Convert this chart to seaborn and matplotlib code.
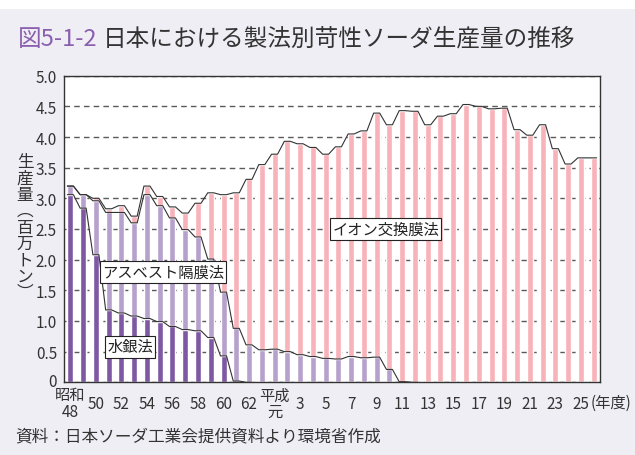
import matplotlib
matplotlib.use('Agg')
import matplotlib.pyplot as plt
import matplotlib.patches as mpatches
import matplotlib.transforms as mtransforms
import seaborn as sns
import numpy as np
import pandas as pd

# 昭和48年度(1973) .. 平成26年度(2014), 百万トン
years = list(range(1973, 2015))
mercury = [3.06, 2.84, 2.08, 1.18, 1.13, 1.08, 1.04, 0.99, 0.91, 0.86,
           0.84, 0.73, 0.43, 0.02, 0, 0, 0, 0, 0, 0,
           0, 0, 0, 0, 0, 0, 0, 0, 0, 0,
           0, 0, 0, 0, 0, 0, 0, 0, 0, 0,
           0, 0]
asbestos = [0.14, 0.22, 0.88, 1.59, 1.64, 1.52, 2.02, 1.89, 1.77, 1.63,
            1.53, 1.28, 1.04, 0.86, 0.61, 0.53, 0.54, 0.50, 0.45, 0.42,
            0.39, 0.38, 0.42, 0.40, 0.41, 0.21, 0.01, 0, 0, 0,
            0, 0, 0, 0, 0, 0, 0, 0, 0, 0,
            0, 0]
ion = [0, 0, 0.04, 0.06, 0.11, 0.11, 0.14, 0.15, 0.18, 0.27,
       0.55, 1.08, 1.59, 2.21, 2.70, 3.02, 3.18, 3.43, 3.44, 3.41,
       3.33, 3.46, 3.63, 3.70, 3.98, 3.99, 4.42, 4.42, 4.20, 4.34,
       4.38, 4.53, 4.50, 4.46, 4.47, 4.12, 4.03, 4.20, 3.81, 3.56,
       3.66, 3.66]
tick_labels = ['昭和\n48', '50', '52', '54', '56', '58', '60', '62', '平成\n元',
               '3', '5', '7', '9', '11', '13', '15', '17', '19', '21', '23', '25']
y_labels = ['0', '0.5', '1.0', '1.5', '2.0', '2.5', '3.0', '3.5', '4.0', '4.5', '5.0']

bg = '#f0eef5'
c_merc = '#7f58a3'
c_asb = '#b6a1cc'
c_ion = '#f8b2b9'
txt = '#333333'

sns.set_style('white')
plt.rcParams['font.family'] = ['Noto Sans CJK JP', 'DejaVu Sans']

ma = np.array(mercury) + np.array(asbestos)
tot = ma + np.array(ion)
df = pd.DataFrame({'year': years, 'total': tot, 'ma': ma, 'mercury': mercury})

fig = plt.figure(figsize=(6.35, 4.56), dpi=100, facecolor=bg)
fig.patches.append(mpatches.Rectangle((0, 1 - 10 / 456), 1, 10 / 456, transform=fig.transFigure,
                                      facecolor='white', edgecolor='none', zorder=0))
ax = fig.add_axes([64 / 635, 1 - 383.3 / 456, 536 / 635, 306.6 / 456])
ax.set_facecolor('white')

bw = 0.47
for col, c in [('total', c_ion), ('ma', c_asb), ('mercury', c_merc)]:
    sns.barplot(data=df, x='year', y=col, color=c, width=bw, saturation=1,
                errorbar=None, ax=ax, zorder=2)

# lines over the bar tops
xs = np.arange(len(years))
def edge_line(vals, n):
    x = np.column_stack([xs[:n] - bw / 2, xs[:n] + bw / 2]).ravel()
    y = np.repeat(np.asarray(vals)[:n], 2)
    ax.plot(x, y, color='#333333', lw=0.8, zorder=3)

edge_line(tot, len(years))
edge_line(ma, 28)
edge_line(mercury, 15)

ax.set_xlim(-0.5, len(years) - 0.5)
ax.set_ylim(0, 5)
ax.set_xlabel('')
ax.set_ylabel('')
ax.yaxis.grid(True, linestyle=(0, (4, 3)), color='#5a5a5a', lw=1)
ax.set_axisbelow(True)

ax.set_xticks(xs[::2])
ax.set_xticklabels(tick_labels, fontsize=11, color=txt, linespacing=0.95)
for lbl in ax.get_xticklabels():
    lbl.set_va('center')
ax.set_xticks(np.arange(0.5, len(years) - 1, 1), minor=True)
ax.tick_params(axis='x', which='major', length=0, pad=15)
ax.tick_params(axis='x', which='minor', direction='in', length=4, width=0.8, color='#333333')

ax.set_yticks(np.arange(0, 5.01, 0.5))
ax.set_yticklabels(y_labels, fontsize=11, color=txt)
ax.tick_params(axis='y', direction='out', length=3, width=0.8, pad=2, color='#333333')
# nudge the "0" label up a little so it clears 昭和
zero_lbl = ax.get_yticklabels()[0]
zero_lbl.set_transform(zero_lbl.get_transform() + mtransforms.ScaledTranslation(0, 3 / 100, fig.dpi_scale_trans))

for s in ax.spines.values():
    s.set_color('#333333')
    s.set_linewidth(1)

box = dict(boxstyle='square,pad=0.15', fc='white', ec='#222222', lw=0.8)
ax.text(7.26, 1.80, 'アスベスト隔膜法', ha='center', va='center', fontsize=11, color='#222222', bbox=box, zorder=5)
ax.text(4.67, 0.58, '水銀法', ha='center', va='center', fontsize=11, color='#222222', bbox=box, zorder=5)
ax.text(24.71, 2.50, 'イオン交換膜法', ha='center', va='center', fontsize=11, color='#222222', bbox=box, zorder=5)

ax.text(42.4, -20 / 306.6, '(年度)', transform=ax.get_xaxis_transform(), ha='center', va='center',
        fontsize=11, color=txt, clip_on=False)

fig.text(18 / 635, 1 - 39 / 456, '図5-1-2', color='#8a5fae', fontsize=17, va='center')
fig.text(103 / 635, 1 - 39 / 456, '日本における製法別苛性ソーダ生産量の推移', color=txt, fontsize=17, va='center')
fig.text(25 / 635, 1 - 228 / 456, '生\n産\n量\n︵\n百\n万\nト\nン\n︶', ha='center', va='center',
         fontsize=12, color=txt, linespacing=0.95)
fig.text(15 / 635, 1 - 437 / 456, '資料：日本ソーダ工業会提供資料より環境省作成', color=txt, fontsize=12, va='center')

fig.savefig('out.png', dpi=100, facecolor=fig.get_facecolor())
